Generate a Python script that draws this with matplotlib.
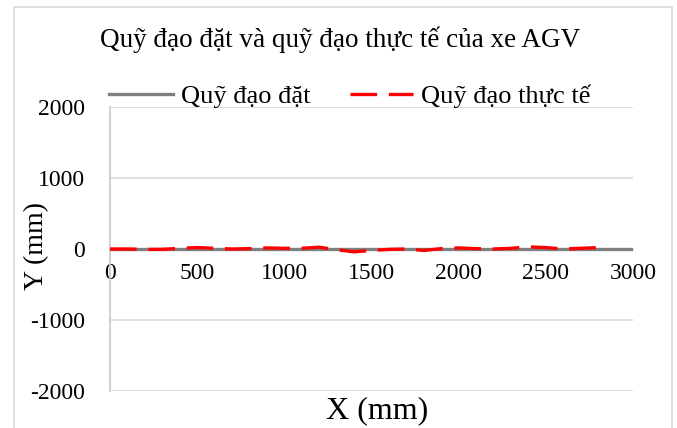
import numpy as np
import matplotlib.pyplot as plt
from matplotlib.patches import Rectangle

# ---- Data ----
x_set = [0, 3000]
y_set = [0, 0]

x_real = [0, 100, 200, 300, 400, 500, 600, 700, 800, 900, 1000, 1100, 1200, 1300, 1400,
          1500, 1600, 1700, 1800, 1900, 2000, 2100, 2200, 2300, 2400, 2500, 2600, 2700,
          2800, 2850]
y_real = [0, 0, -5, -5, 10, 20, 10, 0, 5, 15, 10, 10, 25, -10, -40,
          -20, -5, 0, -20, 5, 15, 5, 0, 10, 30, 20, 0, 10,
          20, 25]

x_ticks = [0, 500, 1000, 1500, 2000, 2500, 3000]
y_ticks = [-2000, -1000, 0, 1000, 2000]

title = 'Quỹ đạo đặt và quỹ đạo thực tế của xe AGV'
label_set = 'Quỹ đạo đặt'
label_real = 'Quỹ đạo thực tế'

plt.rcParams['font.family'] = ['Liberation Serif', 'DejaVu Serif']

W, H = 677, 428
fig = plt.figure(figsize=(W / 100, H / 100), dpi=100)
ax = fig.add_axes([110 / W, 1 - 391 / H, (633 - 110) / W, (391 - 107) / H])

# chart border
fig.patches.append(Rectangle((14 / W, -0.05), (672 - 14) / W, 1.05 - 7 / H,
                             transform=fig.transFigure, fill=False,
                             edgecolor='#D9D9D9', linewidth=1.2))

ax.plot(x_set, y_set, color='#808080', lw=2.4, label=label_set, zorder=3)
ax.plot(x_real, y_real, color='#FF0000', lw=2.4, dashes=(8, 3.5),
        label=label_real, zorder=4)

ax.set_xlim(0, 3000)
ax.set_ylim(-2000, 2000)
ax.set_xticks(x_ticks)
ax.set_yticks(y_ticks)
ax.set_yticklabels([str(v) for v in y_ticks])
ax.grid(axis='y', color='#D9D9D9', lw=1.2)
ax.set_axisbelow(True)

for s in ['top', 'right']:
    ax.spines[s].set_visible(False)
ax.spines['left'].set_color('#C8C8C8')
ax.spines['left'].set_linewidth(1.2)
ax.spines['bottom'].set_position(('data', 0))
ax.spines['bottom'].set_color('#BFBFBF')
ax.tick_params(axis='both', length=0, labelsize=17)
ax.tick_params(axis='y', pad=18)
ax.tick_params(axis='x', pad=10)

fig.text(340 / W, 1 - 40 / H, title, ha='center', va='center', fontsize=19.5)
fig.text(37 / W, 1 - 246 / H, 'Y (mm)', ha='center', va='center',
         rotation=90, fontsize=20)
fig.text(377 / W, 1 - 411 / H, 'X (mm)', ha='center', va='center', fontsize=23)

fig.legend(loc='center', bbox_to_anchor=(350 / W, 1 - 96 / H), ncol=2,
           frameon=False, fontsize=19, handlelength=2.4, handletextpad=0.3,
           columnspacing=1.5)

fig.savefig('out.png', dpi=100)
